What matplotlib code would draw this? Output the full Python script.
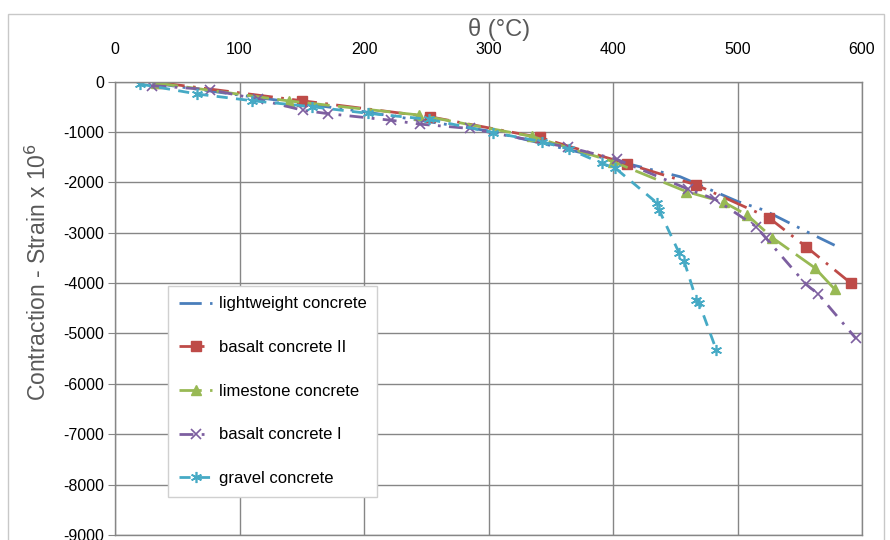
import matplotlib
matplotlib.use('Agg')
import matplotlib.pyplot as plt
from matplotlib.patches import Rectangle

plt.rcParams['font.family'] = ['Liberation Sans', 'DejaVu Sans']
plt.rcParams['axes.unicode_minus'] = False

# temperature (deg C) and contraction strain (x 1e6) for each concrete
lw_temp = [30, 100, 200, 300, 400, 454, 500, 521, 558, 578]
lw_strain = [-30, -270, -600, -980, -1560, -1890, -2380, -2550, -3010, -3250]

b2_temp = [36, 150, 253, 341, 411, 467, 525, 555, 591]
b2_strain = [-24, -381, -700, -1110, -1630, -2054, -2700, -3278, -4000]

lime_temp = [33, 140, 244, 335, 400, 459, 489, 508, 528, 562, 578]
lime_strain = [-30, -387, -665, -1090, -1590, -2186, -2395, -2655, -3100, -3696, -4120]

b1_temp = [30, 76, 115, 151, 171, 222, 245, 285, 364, 403, 460, 482, 515, 523, 555, 565, 595]
b1_strain = [-83, -160, -353, -572, -638, -770, -846, -932, -1306, -1544, -2133, -2337,
             -2880, -3111, -4024, -4222, -5095]

gr_temp = [20, 66, 110, 158, 203, 252, 304, 343, 365, 391, 402, 435, 437, 453, 457,
           467, 469, 483]
gr_strain = [-50, -248, -381, -500, -631, -750, -1015, -1194, -1345, -1623, -1722,
             -2404, -2550, -3396, -3555, -4335, -4388, -5327]

x_ticks = [0, 100, 200, 300, 400, 500, 600]
y_ticks = list(range(0, -9001, -1000))

fig = plt.figure(figsize=(8.9, 5.4), dpi=100)
ax = fig.add_axes([115 / 890, 1 - 535 / 540, (862 - 115) / 890, (535 - 81.5) / 540])

grey = '#868686'
ax.plot(lw_temp, lw_strain, color='#4A7EBB', lw=2, linestyle=(0, (8, 3, 1, 3, 1, 3)),
        label='lightweight concrete')
ax.plot(b2_temp, b2_strain, color='#BE4B48', lw=2, linestyle=(0, (9, 3, 1, 3)),
        marker='s', ms=7, label='basalt concrete II')
ax.plot(lime_temp, lime_strain, color='#98B954', lw=2, linestyle=(0, (8, 3)),
        marker='^', ms=7, label='limestone concrete')
ax.plot(b1_temp, b1_strain, color='#7D5FA0', lw=2, linestyle=(0, (5, 3, 1, 3)),
        marker='x', ms=7, mew=1.2, label='basalt concrete I')
ax.plot(gr_temp, gr_strain, color='#46AAC5', lw=2, linestyle=(0, (4, 3)),
        marker=(6, 2, 0), ms=8, mew=1.2, label='gravel concrete')

ax.set_xlim(0, 600)
ax.set_ylim(-9000, 0)
ax.set_xticks(x_ticks)
ax.set_yticks(y_ticks)
ax.xaxis.tick_top()
ax.xaxis.set_label_position('top')
ax.set_xlabel('θ (°C)', fontsize=17, color='#595959', va='center')
ax.xaxis.set_label_coords(0.514, (535 - 30) / 453.5)
ax.set_ylabel('Contraction - Strain x 10$^6$', fontsize=16.5, color='#595959',
              va='center')
ax.yaxis.set_label_coords(-0.103, 0.58)
ax.tick_params(axis='x', length=0, labelsize=11.5, pad=18)
ax.tick_params(axis='y', length=5, color=grey, labelsize=11.5, pad=3)
ax.grid(True, color=grey, lw=1)
ax.set_axisbelow(True)
for side in ['left', 'top', 'right', 'bottom']:
    ax.spines[side].set_color(grey)
    ax.spines[side].set_linewidth(1)

leg = ax.legend(loc='upper left', bbox_to_anchor=(53 / 747, 1 - 204 / 453.5),
                fontsize=12, labelspacing=1.72, handlelength=2.0, handletextpad=0.4,
                borderpad=0.65, borderaxespad=0, fancybox=False, framealpha=1,
                edgecolor='#D0D0D0')
leg.get_frame().set_linewidth(1)

# light chart-area frame around the whole figure
fig.patches.append(Rectangle((8 / 890, -0.05), 876 / 890, 1.05 - 14 / 540,
                             transform=fig.transFigure, fill=False,
                             edgecolor='#C8C8C8', lw=1))

fig.savefig('out.png', dpi=100)
